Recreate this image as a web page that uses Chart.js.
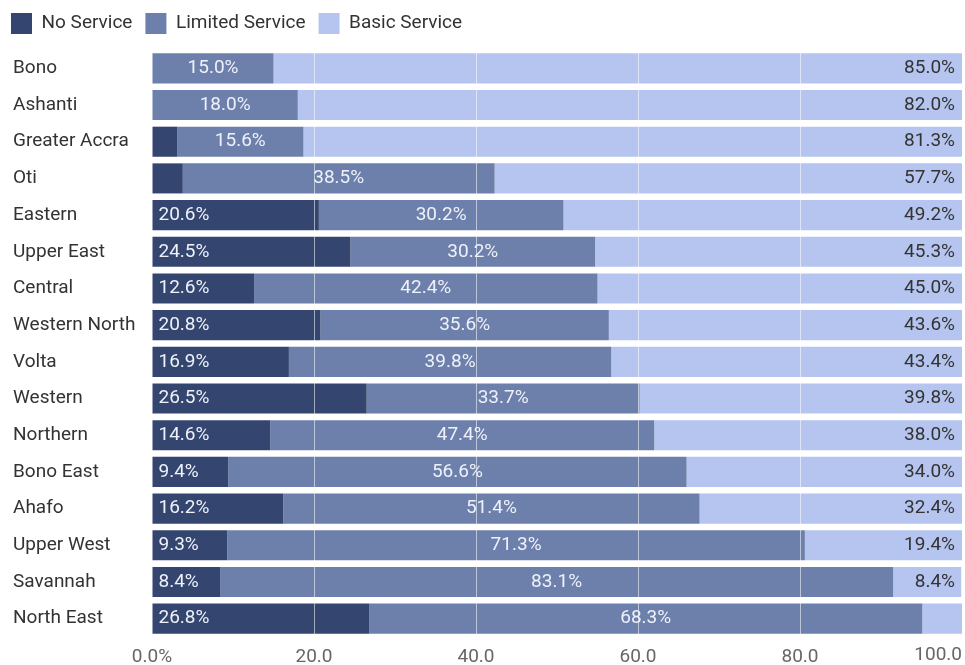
<!DOCTYPE html>
<html>
<head>
<meta charset="utf-8">
<script src="https://cdn.jsdelivr.net/npm/chart.js@4.4.1/dist/chart.umd.min.js"></script>
<style>
  body { margin: 0; background: #fff; }
  #wrap { width: 965px; height: 665px; }
</style>
</head>
<body>
<div id="wrap"><canvas id="barChart" width="965" height="665"></canvas></div>
<script>
const regions = ['Bono', 'Ashanti', 'Greater Accra', 'Oti', 'Eastern', 'Upper East', 'Central',
    'Western North', 'Volta', 'Western', 'Northern', 'Bono East', 'Ahafo', 'Upper West', 'Savannah', 'North East'];
const noService = [0, 0, 3.1, 3.8, 20.6, 24.5, 12.6, 20.8, 16.9, 26.5, 14.6, 9.4, 16.2, 9.3, 8.4, 26.8];
const limitedService = [15.0, 18.0, 15.6, 38.5, 30.2, 30.2, 42.4, 35.6, 39.8, 33.7, 47.4, 56.6, 51.4, 71.3, 83.1, 68.3];
const basicService = [85.0, 82.0, 81.3, 57.7, 49.2, 45.3, 45.0, 43.6, 43.4, 39.8, 38.0, 34.0, 32.4, 19.4, 8.4, 4.9];
const xTicks = [0, 20, 40, 60, 80, 100];

const FONT = 'Roboto, "Noto Sans", sans-serif';
const FSIZE = 19;
const TICK_PAD = 9;

// fixed legend height so the plot starts where the original does,
// and pull the legend back to the left edge (layout padding is only for the y labels)
const legendTweak = {
    id: 'legendTweak',
    beforeLayout(chart) {
        const lg = chart.legend;
        if (lg && !lg._fixed) {
            const fit = lg.fit.bind(lg);
            lg.fit = function () { fit(); this.height = 50; };
            const draw = lg.draw.bind(lg);
            lg.draw = function () {
                this.left -= 15;
                draw();
                this.left += 15;
            };
            lg._fixed = true;
        }
    }
};

// draws the % labels inside the bars + the last x tick (right aligned, like the original)
const barLabels = {
    id: 'barLabels',
    afterDraw(chart) {
        const ctx = chart.ctx;
        ctx.save();
        ctx.font = FSIZE + 'px ' + FONT;
        ctx.textBaseline = 'middle';
        chart.data.datasets.forEach((ds, i) => {
            const meta = chart.getDatasetMeta(i);
            meta.data.forEach((bar, j) => {
                const v = ds.data[j];
                if (v < 5) return;
                const txt = v.toFixed(1) + '%';
                if (i === 0) {
                    ctx.fillStyle = '#eef1fa';
                    ctx.textAlign = 'left';
                    ctx.fillText(txt, bar.base + 6, bar.y);
                } else if (i === 1) {
                    ctx.fillStyle = '#eef1fa';
                    ctx.textAlign = 'center';
                    ctx.fillText(txt, (bar.base + bar.x) / 2, bar.y);
                } else {
                    ctx.fillStyle = '#333';
                    ctx.textAlign = 'right';
                    ctx.fillText(txt, chart.chartArea.right - 7, bar.y);
                }
            });
        });
        const xs = chart.scales.x;
        ctx.fillStyle = '#666';
        ctx.textAlign = 'right';
        ctx.textBaseline = 'top';
        ctx.fillText(xTicks[xTicks.length - 1].toFixed(1), chart.chartArea.right, xs.top + TICK_PAD);
        ctx.restore();
    }
};

new Chart(document.getElementById('barChart').getContext('2d'), {
    type: 'bar',
    data: {
        labels: regions,
        datasets: [
            { label: 'No Service', data: noService, backgroundColor: '#34466f' },
            { label: 'Limited Service', data: limitedService, backgroundColor: '#6d7fab' },
            { label: 'Basic Service', data: basicService, backgroundColor: '#b5c5ef' }
        ]
    },
    options: {
        indexAxis: 'y',
        responsive: false,
        animation: false,
        categoryPercentage: 1,
        barPercentage: 0.82,
        layout: { padding: { left: 13, right: 3, top: 0, bottom: 3 } },
        plugins: {
            legend: {
                position: 'top',
                align: 'start',
                labels: {
                    boxWidth: 21,
                    boxHeight: 21,
                    padding: 13,
                    color: '#333',
                    font: { family: FONT, size: FSIZE }
                }
            },
            tooltip: { enabled: false }
        },
        scales: {
            x: {
                stacked: true,
                min: 0,
                max: 100,
                afterBuildTicks(scale) {
                    scale.ticks = xTicks.map(v => ({ value: v }));
                },
                afterFit(scale) {
                    scale.paddingRight = 0;
                    scale.height = 25;
                },
                ticks: {
                    padding: TICK_PAD,
                    color: '#666',
                    font: { family: FONT, size: FSIZE },
                    callback: (v) => v === 0 ? '0.0%' : (v === 100 ? '' : v.toFixed(1))
                },
                grid: {
                    z: 1,
                    drawTicks: false,
                    lineWidth: 1,
                    color: (c) => (c.tick && (c.tick.value === 0 || c.tick.value === 100)) ? 'rgba(0,0,0,0)' : 'rgba(255,255,255,0.55)'
                },
                border: { display: false }
            },
            y: {
                stacked: true,
                afterFit(scale) {
                    scale.width = 139;
                },
                ticks: {
                    crossAlign: 'far',
                    color: '#333',
                    font: { family: FONT, size: FSIZE }
                },
                grid: { display: false },
                border: { display: false }
            }
        }
    },
    plugins: [legendTweak, barLabels]
});
</script>
</body>
</html>
